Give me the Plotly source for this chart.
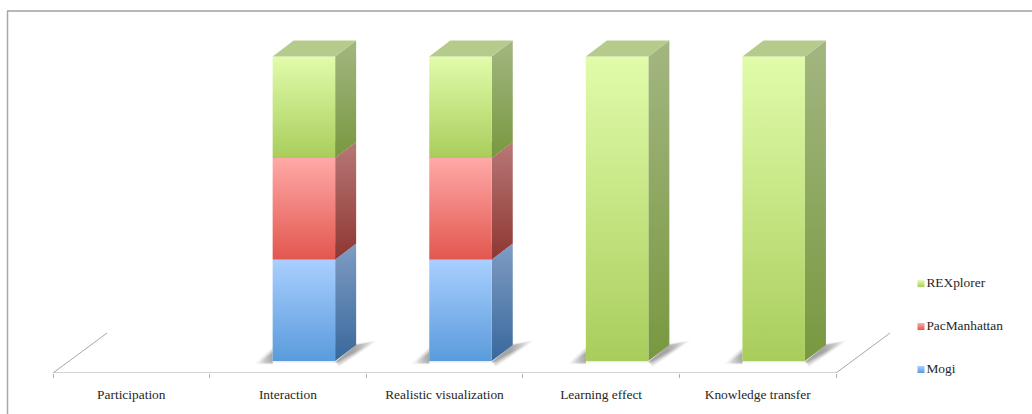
import plotly.graph_objects as go

categories = ["Participation", "Interaction", "Realistic visualization", "Learning effect", "Knowledge transfer"]
series_names = ["Mogi", "PacManhattan", "REXplorer"]
mogi = [0, 1, 1, 0, 0]
pacmanhattan = [0, 1, 1, 0, 0]
rexplorer = [0, 1, 1, 3, 3]
series_values = [mogi, pacmanhattan, rexplorer]

W, H = 1032, 414
L, R, T, B = 53, 836, 10.5, 373
PX_X = (R - L) / 5          # px per category
PX_Y = 305 / 3              # px per value unit
Y_MIN = -12 / PX_Y
Y_MAX = (361 - T) / PX_Y
X_MIN = -0.5
X_MAX = X_MIN + (W - L) / PX_X

def ux(px): return px / PX_X
def uy(px): return px / PX_Y

BAR_OFF = ux(16)             # front face centre relative to the category centre
BAR_W = ux(62.5)
DX, DY = ux(21), uy(16)

front = {"REXplorer": ["#a9cd5c", "#e1fcaa"], "PacManhattan": ["#e2574f", "#ffa9a7"], "Mogi": ["#5a9bdb", "#a9cfff"]}
side = {"REXplorer": ["#789840", "#a3b681"], "PacManhattan": ["#8e3632", "#b87876"], "Mogi": ["#38689b", "#7f9cc4"]}
topc = {"REXplorer": "#b5cb8c", "PacManhattan": "#d99c9a", "Mogi": "#9db8dd"}
FONT = dict(family="Liberation Serif", size=13.4, color="#262626")
AXIS_COLOR = "#a6a6a6"
SHADOW_UNDER = [[0, "rgba(255,255,255,0)"], [1, "rgba(175,175,175,0.4)"]]
# shadow layers, outermost first: (spread in px, opacity at the bar)
SHADOW_LAYERS = [(5, 0.07), (3.5, 0.1), (2, 0.13), (0.5, 0.16), (-1, 0.2)]


def poly(xs, ys, scale=None, flat=None, orient="vertical", name=""):
    t = go.Scatter(x=xs + xs[:1], y=ys + ys[:1], mode="lines", line=dict(width=0), fill="toself",
                   showlegend=False, hoverinfo="skip", name=name)
    if scale:
        t.fillgradient = dict(type=orient, colorscale=scale)
    else:
        t.fillcolor = flat
    return t


def two(c):
    return [[0, c[0]], [1, c[1]]]


fig = go.Figure()

# floor outline: front edge and the two perspective edges
fdx, fdy = ux(54), uy(40)
floor_base = Y_MIN
for xs, ys in (([-0.5, 4.5], [floor_base, floor_base]),
               ([-0.5, -0.5 + fdx], [floor_base, floor_base + fdy]),
               ([4.5, 4.5 + fdx], [floor_base, floor_base + fdy])):
    fig.add_trace(go.Scatter(x=xs, y=ys, mode="lines", line=dict(color=AXIS_COLOR, width=1),
                             showlegend=False, hoverinfo="skip", cliponaxis=False))

# floor shadows, built from translucent layers so that the edges stay soft
for i in range(len(categories)):
    total = sum(v[i] for v in series_values)
    if total == 0:
        continue
    x0 = i + BAR_OFF - BAR_W / 2
    x1 = x0 + BAR_W
    for s, a in SHADOW_LAYERS:
        right = [[0, f"rgba(80,80,80,{a})"], [0.45, f"rgba(80,80,80,{a})"], [1, "rgba(80,80,80,0)"]]
        left = [[0, "rgba(80,80,80,0)"], [1, f"rgba(80,80,80,{a})"]]
        fig.add_trace(poly([x1, x1 + DX, x1 + DX + ux(19 + s), x1 + ux(4)],
                           [uy(-1), DY + uy(s * 0.3), DY + uy(4 + s * 0.3), uy(-1 - s)],
                           scale=right, orient="horizontal"))
        fig.add_trace(poly([x0 - ux(15 + s), x0, x0],
                           [uy(-2 - s * 0.3), uy(9 + s), uy(-2 - s * 0.3)],
                           scale=left, orient="horizontal"))
    fig.add_trace(poly([x0 - ux(6), x1 + ux(4), x1 + ux(4), x0 - ux(6)],
                       [0, 0, uy(-3), uy(-3)],
                       scale=SHADOW_UNDER))

# stacked boxes
for i in range(len(categories)):
    base = 0
    x0 = i + BAR_OFF - BAR_W / 2
    x1 = x0 + BAR_W
    for name, vals in zip(series_names, series_values):
        v = vals[i]
        if v == 0:
            continue
        y0, y1 = base, base + v
        fig.add_trace(poly([x1, x1 + DX, x1 + DX, x1], [y0, y0 + DY, y1 + DY, y1],
                           scale=two(side[name]), name=name))
        fig.add_trace(poly([x0, x1, x1, x0], [y0, y0, y1, y1], scale=two(front[name]), name=name))
        fig.add_trace(poly([x0, x1, x1 + DX, x0 + DX], [y1, y1, y1 + DY, y1 + DY], flat=topc[name], name=name))
        base = y1

# legend column
legend_x = (921 - L) / PX_X - 0.5
legend_y = {"REXplorer": (361 - 283.5) / PX_Y, "PacManhattan": (361 - 326.5) / PX_Y, "Mogi": (361 - 369.5) / PX_Y}
for name in series_names:
    fig.add_trace(go.Scatter(
        x=[legend_x], y=[legend_y[name]], mode="markers+text", name=name, text=[name],
        textposition="middle right", textfont=FONT,
        marker=dict(symbol="square", size=7, color=front[name][1], line=dict(width=0),
                    gradient=dict(type="vertical", color=front[name][0])),
        showlegend=False, hoverinfo="skip", cliponaxis=False))

plot_w = W - L
fig.update_layout(
    width=W, height=H, autosize=False,
    margin=dict(l=L, r=0, t=T, b=H - B, pad=0),
    paper_bgcolor="white", plot_bgcolor="white", showlegend=False,
    xaxis=dict(range=[X_MIN, X_MAX], tickmode="array", tickvals=list(range(5)), ticktext=categories,
               ticks="", showgrid=False, zeroline=False, showline=False,
               ticklabelstandoff=12, tickfont=FONT,
               minor=dict(tickmode="array", tickvals=[-0.5, 0.5, 1.5, 2.5, 3.5, 4.5], ticks="outside",
                          ticklen=4, tickcolor="#b0b0b0", tickwidth=1, showgrid=False)),
    yaxis=dict(range=[Y_MIN, Y_MAX], visible=False),
    shapes=[
        dict(type="line", xref="paper", yref="paper", x0=-46 / plot_w, x1=1,
             y0=1, y1=1, line=dict(color="#a0a0a0", width=1.5)),
        dict(type="line", xref="paper", yref="paper", x0=-45.5 / plot_w, x1=-45.5 / plot_w,
             y0=1, y1=-41 / (B - T), line=dict(color="#a8a8a8", width=1.5)),
    ],
)
fig.write_html("out.html", post_script="document.body.style.margin='0';", config={"displayModeBar": False})
